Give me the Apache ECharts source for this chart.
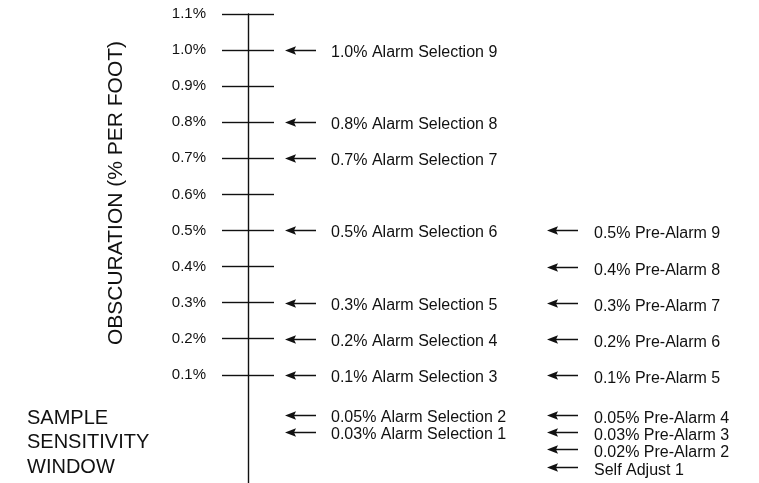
<!DOCTYPE html>
<html>
<head>
<meta charset="utf-8">
<script src="https://cdn.jsdelivr.net/npm/echarts@6/dist/echarts.min.js"></script>
<style>
html,body{margin:0;padding:0;background:#fff;}
#chart{width:759px;height:483px;}
</style>
</head>
<body>
<div id="chart"></div>
<script>
// ---- data ----
const tickValues = [0.1, 0.2, 0.3, 0.4, 0.5, 0.6, 0.7, 0.8, 0.9, 1.0, 1.1];
const tickLabels = ['0.1%', '0.2%', '0.3%', '0.4%', '0.5%', '0.6%', '0.7%', '0.8%', '0.9%', '1.0%', '1.1%'];

const alarmLabels = [
  '1.0% Alarm Selection 9', '0.8% Alarm Selection 8', '0.7% Alarm Selection 7',
  '0.5% Alarm Selection 6', '0.3% Alarm Selection 5', '0.2% Alarm Selection 4',
  '0.1% Alarm Selection 3', '0.05% Alarm Selection 2', '0.03% Alarm Selection 1'
];
// position along the axis (values below 0.1 sit in the non-scaled sample sensitivity window)
const alarmPositions = [1.0, 0.8, 0.7, 0.5, 0.3, 0.2, 0.1, -0.011, -0.060];

const preAlarmLabels = [
  '0.5% Pre-Alarm 9', '0.4% Pre-Alarm 8', '0.3% Pre-Alarm 7', '0.2% Pre-Alarm 6',
  '0.1% Pre-Alarm 5', '0.05% Pre-Alarm 4', '0.03% Pre-Alarm 3', '0.02% Pre-Alarm 2',
  'Self Adjust 1'
];
const preAlarmPositions = [0.5, 0.4, 0.3, 0.2, 0.1, -0.011, -0.060, -0.107, -0.156];

const windowWords = ['SAMPLE', 'SENSITIVITY', 'WINDOW'];
const axisTitle = 'OBSCURATION (% PER FOOT)';

// ---- chart ----
const FONT = "'Liberation Sans', Arial, sans-serif";
const INK = '#111';

const rows = [];
alarmLabels.forEach((t, i) => rows.push([0, alarmPositions[i], t]));
preAlarmLabels.forEach((t, i) => rows.push([1, preAlarmPositions[i], t]));

const chart = echarts.init(document.getElementById('chart'), null, {renderer: 'canvas'});

const colLayout = [
  {head: 37, tail: 68, text: 83, dy: 2.5},
  {head: 299, tail: 330, text: 346, dy: 3.5}
];

function renderArrow(params, api) {
  const col = api.value(0);
  const p = api.coord([0, api.value(1)]);
  const L = colLayout[col];
  const ax = p[0];
  const y = Math.round(p[1]) + 0.5;
  const hx = ax + L.head;
  return {
    type: 'group',
    children: [
      {type: 'line', shape: {x1: hx + 7, y1: y, x2: ax + L.tail, y2: y},
       style: {stroke: INK, lineWidth: 1.5}},
      {type: 'polygon', shape: {points: [[hx, y], [hx + 11, y - 4.2], [hx + 9, y], [hx + 11, y + 4.2]]},
       style: {fill: INK}},
      {type: 'text', x: ax + L.text, y: y + L.dy,
       style: {text: api.value(2), fill: INK, font: '16px ' + FONT,
               textAlign: 'left', textVerticalAlign: 'middle'}}
    ]
  };
}

const option = {
  animation: false,
  backgroundColor: '#fff',
  grid: {left: 248, top: 14, height: 473.2, right: 0, containLabel: false},
  xAxis: {type: 'value', min: 0, max: 1, show: false},
  yAxis: [
    {
      type: 'value', min: -0.2, max: 1.1, position: 'left',
      axisLine: {show: true, onZero: false, lineStyle: {color: INK, width: 1.4}},
      axisTick: {show: true, inside: false, length: 26, customValues: tickValues,
                 lineStyle: {color: INK, width: 1.4}},
      axisLabel: {show: true, margin: 42, customValues: tickValues,
                  color: INK, fontFamily: FONT, fontSize: 15, padding: [7, 0, 0, 0],
                  formatter: v => tickLabels[tickValues.findIndex(t => Math.abs(t - v) < 1e-6)] || ''},
      splitLine: {show: false}
    },
    {
      type: 'value', min: -0.2, max: 1.1, position: 'left',
      axisLine: {show: false},
      axisTick: {show: true, inside: true, length: 26, customValues: tickValues,
                 lineStyle: {color: INK, width: 1.4}},
      axisLabel: {show: false},
      splitLine: {show: false}
    }
  ],
  series: [{
    type: 'custom',
    renderItem: renderArrow,
    data: rows,
    silent: true
  }],
  graphic: [
    {type: 'text', left: 27, top: 406, z: 10,
     style: {text: windowWords.join('\n'), fill: INK, font: '20px ' + FONT, lineHeight: 24.5}},
    {type: 'text', x: 116, y: 193, rotation: Math.PI / 2, z: 10,
     style: {text: axisTitle, fill: INK, font: '21px ' + FONT,
             textAlign: 'center', textVerticalAlign: 'middle'}}
  ]
};
chart.setOption(option);
</script>
</body>
</html>
